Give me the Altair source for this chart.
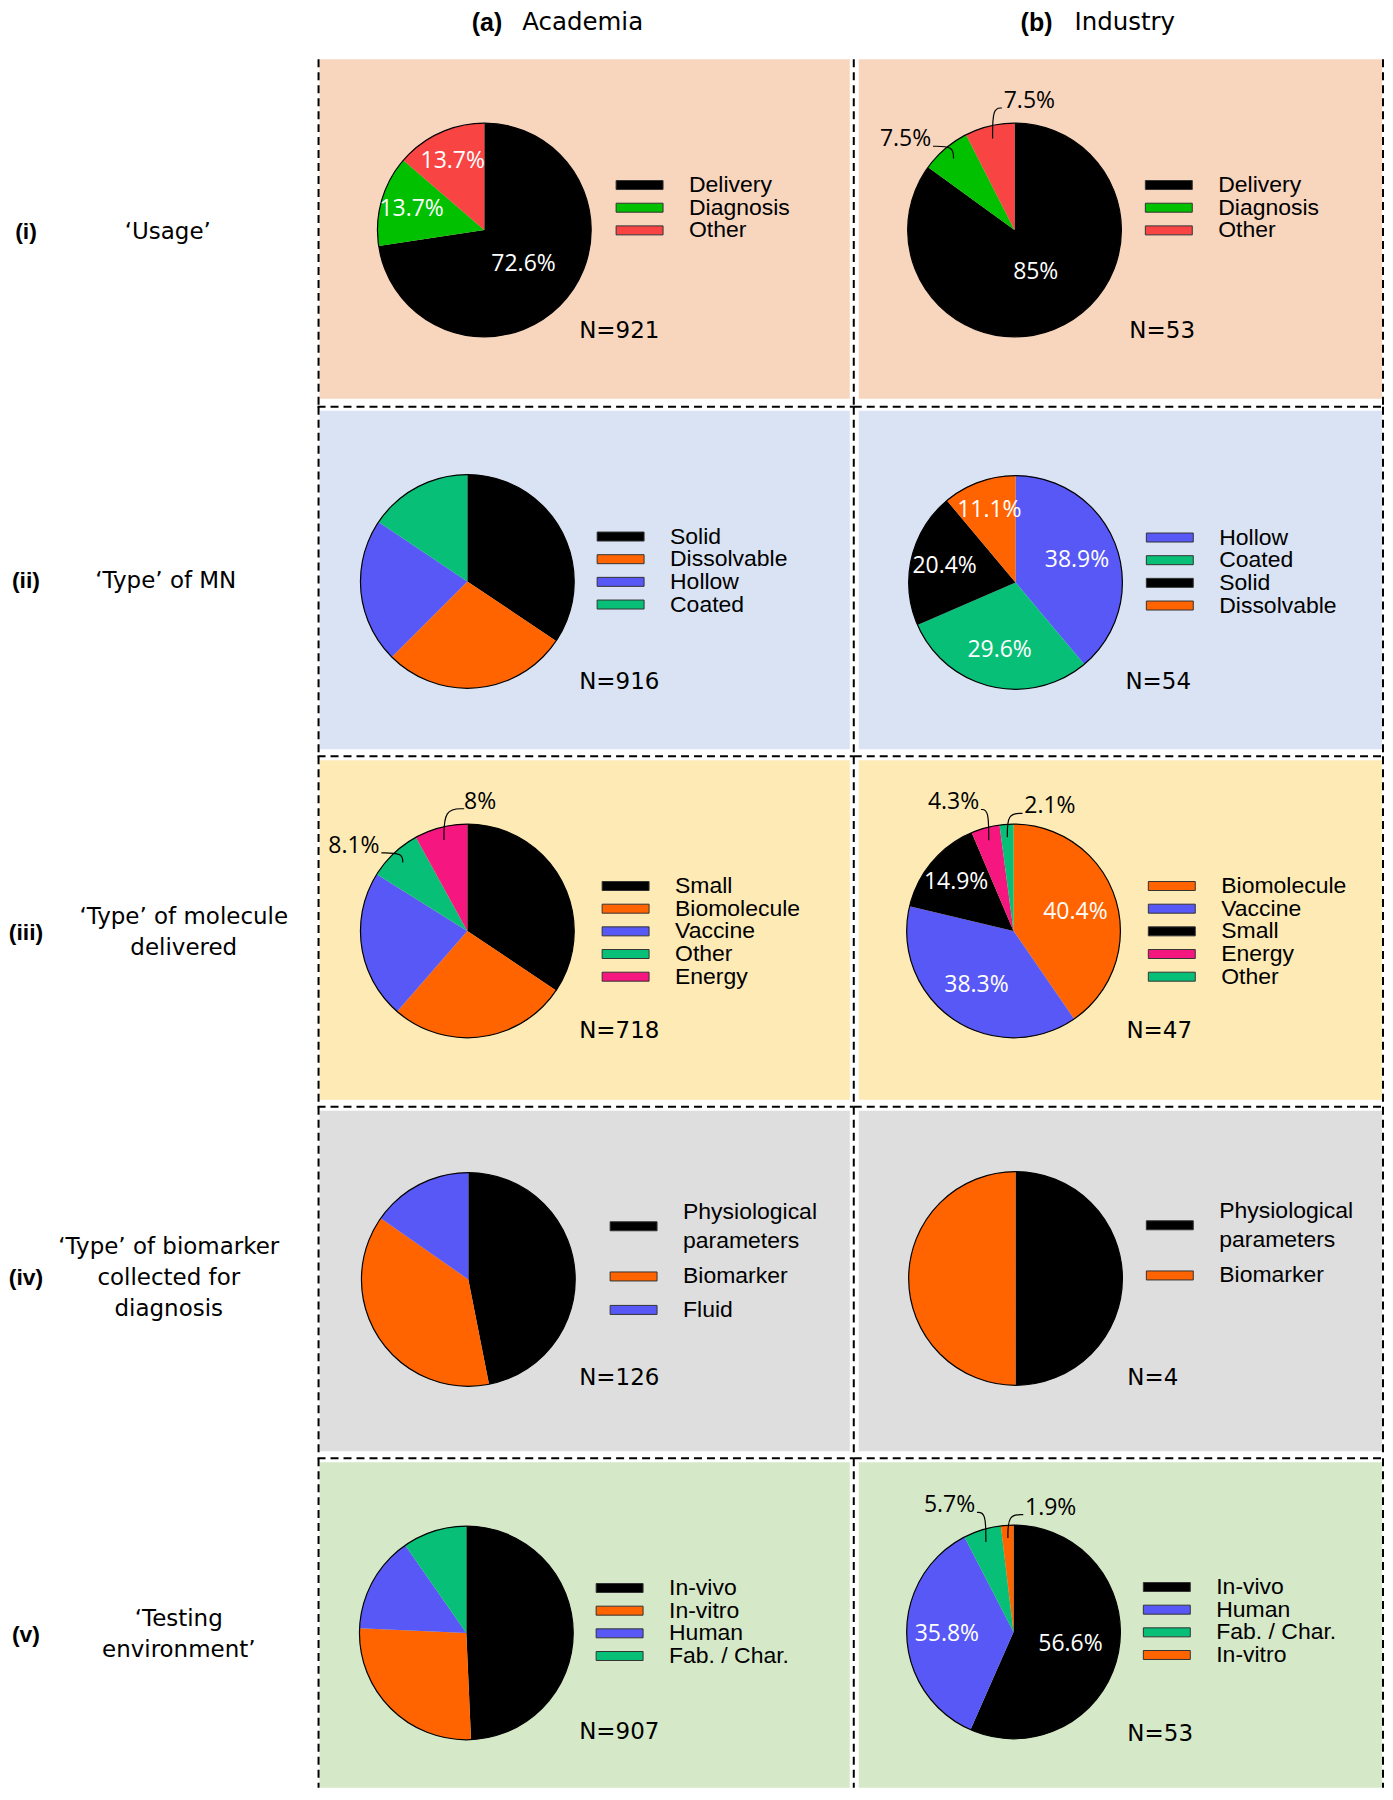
import math
import altair as alt
import pandas as pd

# ---------------- data ----------------
col_tags = ["(a)", "(b)"]
col_names = ["Academia", "Industry"]
row_numerals = ["(i)", "(ii)", "(iii)", "(iv)", "(v)"]
row_titles = ["\u2018Usage\u2019", "\u2018Type\u2019 of MN",
              "\u2018Type\u2019 of molecule\ndelivered",
              "\u2018Type\u2019 of biomarker\ncollected for\ndiagnosis",
              "\u2018Testing\nenvironment\u2019"]

usage_cats = ["Delivery", "Diagnosis", "Other"]
usage_academia = [72.6, 13.7, 13.7]
usage_academia_labels = ["72.6%", "13.7%", "13.7%"]
usage_industry = [85.0, 7.5, 7.5]
usage_industry_labels = ["85%", "7.5%", "7.5%"]

mn_academia_cats = ["Solid", "Dissolvable", "Hollow", "Coated"]
mn_academia = [34.4, 28.1, 21.9, 15.6]
mn_academia_labels = ["", "", "", ""]
mn_industry_cats = ["Hollow", "Coated", "Solid", "Dissolvable"]
mn_industry = [38.9, 29.6, 20.4, 11.1]
mn_industry_labels = ["38.9%", "29.6%", "20.4%", "11.1%"]

mol_academia_cats = ["Small", "Biomolecule", "Vaccine", "Other", "Energy"]
mol_academia = [34.4, 27.0, 22.5, 8.1, 8.0]
mol_academia_labels = ["", "", "", "8.1%", "8%"]
mol_industry_cats = ["Biomolecule", "Vaccine", "Small", "Energy", "Other"]
mol_industry = [40.4, 38.3, 14.9, 4.3, 2.1]
mol_industry_labels = ["40.4%", "38.3%", "14.9%", "4.3%", "2.1%"]

bio_academia_cats = ["Physiological\nparameters", "Biomarker", "Fluid"]
bio_academia = [46.9, 37.8, 15.3]
bio_academia_labels = ["", "", ""]
bio_industry_cats = ["Physiological\nparameters", "Biomarker"]
bio_industry = [50.0, 50.0]
bio_industry_labels = ["", ""]

test_academia_cats = ["In-vivo", "In-vitro", "Human", "Fab. / Char."]
test_academia = [49.3, 26.4, 14.6, 9.7]
test_academia_labels = ["", "", "", ""]
test_industry_cats = ["In-vivo", "Human", "Fab. / Char.", "In-vitro"]
test_industry = [56.6, 35.8, 5.7, 1.9]
test_industry_labels = ["56.6%", "35.8%", "5.7%", "1.9%"]

n_academia = [921, 916, 718, 126, 907]
n_industry = [53, 54, 47, 4, 53]

# ---------------- styles ----------------
BLACK, ORANGE, BLUE, TEAL, PINK = "#000000", "#FF6400", "#5858F6", "#08BF78", "#F5167F"
usage_palette = {"Delivery": BLACK, "Diagnosis": "#00C000", "Other": "#F94444"}
main_palette = {"Solid": BLACK, "Dissolvable": ORANGE, "Hollow": BLUE, "Coated": TEAL,
                "Small": BLACK, "Biomolecule": ORANGE, "Vaccine": BLUE, "Other": TEAL,
                "Energy": PINK, "Physiological\nparameters": BLACK, "Biomarker": ORANGE,
                "Fluid": BLUE, "In-vivo": BLACK, "In-vitro": ORANGE, "Human": BLUE,
                "Fab. / Char.": TEAL}
row_bg = ["#F8D6BE", "#D9E3F3", "#FEEAB5", "#DEDEDE", "#D5E8C7"]

LABEL_W, PANEL_W = 309, [537, 531]
HEADER_H = 49
ROW_H = [346, 349, 350, 351, 331]
R = 107
LEG_LH = 28.7
TITLE_LH = 31

# layout of each panel (local pixel coordinates)
layouts = {
    (0, 0): dict(cx=167, cy=171, sx=299, nx=262, ny=272),
    (0, 1): dict(cx=161, cy=171, sx=292, nx=276, ny=272),
    (1, 0): dict(cx=150, cy=176, sx=280, nx=262, ny=277),
    (1, 1): dict(cx=162, cy=177, sx=293, nx=272, ny=277),
    (2, 0): dict(cx=150, cy=176, sx=285, nx=262, ny=276),
    (2, 1): dict(cx=160, cy=176, sx=295, nx=273, ny=276),
    (3, 0): dict(cx=151, cy=174, sx=293, nx=262, ny=273),
    (3, 1): dict(cx=162, cy=173, sx=293, nx=274, ny=273),
    (4, 0): dict(cx=149, cy=176, sx=279, nx=262, ny=275),
    (4, 1): dict(cx=160, cy=175, sx=290, nx=274, ny=277),
}
legend_pitch = [22.7, 22.7, 22.7, 33.5, 22.7]
legend_off = [-45, -45, -45, -70, -45]
row_label_x = [159, 157, 175, 160, 170]
row_label_y = [173, 176, 178, 173, 178]

DASH = dict(strokeDash=[8, 5], strokeWidth=2, color="black")


def pie_panel(row, col, cats, vals, labels, n_value, palette):
    w, h = PANEL_W[col], ROW_H[row]
    L = layouts[(row, col)]
    cx, cy, sx = L["cx"], L["cy"], L["sx"]
    df = pd.DataFrame({"cat": cats, "val": vals, "lab": labels,
                       "idx": list(range(len(cats))),
                       "nl": [c.count("\n") + 1 for c in cats]})
    one = pd.DataFrame({"n": [f"N={n_value}"]})
    color = alt.Color("cat:N", scale=alt.Scale(domain=list(cats),
                      range=[palette[c] for c in cats]), legend=None)

    x0, x1 = (2, w - 4) if col == 0 else (5, w - 2)
    y0 = 0 if row == 0 else 5
    y1 = h if row == 4 else (h - 6 if row == 0 else h - 5)
    bg = alt.Chart(one).mark_rect(color=row_bg[row]).encode(
        x=alt.value(x0), x2=alt.value(x1), y=alt.value(y0), y2=alt.value(y1))

    geo = (alt.Chart(df)
           .transform_joinaggregate(total="sum(val)")
           .transform_window(cum="sum(val)", sort=[alt.SortField("idx")], frame=[None, 0])
           .transform_calculate(
               a1="2*PI*datum.cum/datum.total",
               a0="2*PI*(datum.cum-datum.val)/datum.total",
               am="PI*(2*datum.cum-datum.val)/datum.total",
               frac="datum.val/datum.total"))

    arcs = geo.mark_arc(radius=R).encode(
        theta=alt.Theta("a0:Q", scale=None, stack=False), theta2=alt.Theta2("a1:Q"),
        color=color, x=alt.value(cx), y=alt.value(cy))
    outline = alt.Chart(one).mark_arc(radius=R, theta=0, theta2=2 * math.pi, fillOpacity=0,
                                      stroke="black", strokeWidth=1.2).encode(
        x=alt.value(cx), y=alt.value(cy))

    inside = (geo.transform_filter("datum.lab != '' && datum.val >= 9")
              .transform_calculate(
                  r=f"{R}*(0.76-0.38*datum.frac)",
                  px=f"{cx} + datum.r*sin(datum.am)",
                  py=f"{cy} - datum.r*cos(datum.am)")
              .mark_text(font="Open Sans", fontSize=23, color="white")
              .encode(x=alt.X("px:Q", scale=None), y=alt.Y("py:Q", scale=None), text="lab:N"))

    outside_base = (geo.transform_filter("datum.lab != '' && datum.val < 9")
                    .transform_calculate(
                        last="datum.cum >= datum.total - 0.01 ? 1 : 0",
                        la="datum.am + (datum.last ? 0.35 : -0.17)",
                        ld=f"datum.last ? {R + 23} : {R + 35}",
                        lx=f"{cx} + datum.ld*sin(datum.la)",
                        ly=f"{cy} - datum.ld*cos(datum.la)"))
    outside = outside_base.mark_text(font="Open Sans", fontSize=23, color="black").encode(
        x=alt.X("lx:Q", scale=None), y=alt.Y("ly:Q", scale=None), text="lab:N")
    leaders = (outside_base
               .transform_calculate(lw="length(datum.lab)*11.5+5", steps="[0,1,2]")
               .transform_flatten(["steps"])
               .transform_calculate(
                   ex="datum.lx + (datum.last ? -1 : 1)*(datum.lw/2+2)",
                   ey="datum.ly + 7",
                   ix=f"{cx} + {0.88 * R}*sin(datum.am)",
                   iy=f"{cy} - {0.88 * R}*cos(datum.am)",
                   px="datum.steps < 2 ? datum.ix : datum.ex",
                   py="datum.steps == 0 ? datum.iy : datum.ey")
               .mark_line(interpolate="basis", color="black", strokeWidth=1.2)
               .encode(x=alt.X("px:Q", scale=None), y=alt.Y("py:Q", scale=None),
                       detail="cat:N", order="steps:Q"))

    leg = (alt.Chart(df)
           .transform_window(cu="sum(nl)", sort=[alt.SortField("idx")], frame=[None, 0])
           .transform_calculate(
               ly=f"{cy + legend_off[row]} + (datum.cu - datum.nl/2 - 0.5)*{legend_pitch[row]}",
               ly0="datum.ly - 4.5", ly1="datum.ly + 4.5",
               lty=f"datum.ly - (datum.nl - 1)*{LEG_LH}/2"))
    swatch = leg.mark_rect(stroke="#333333", strokeWidth=1).encode(
        x=alt.value(sx), x2=alt.value(sx + 47),
        y=alt.Y("ly0:Q", scale=None), y2=alt.Y2("ly1:Q"), color=color)
    ltext = leg.mark_text(align="left", baseline="middle", font="Liberation Sans",
                          fontSize=23, lineBreak="\n", lineHeight=LEG_LH, color="black").encode(
        x=alt.value(sx + 73), y=alt.Y("lty:Q", scale=None), text="cat:N")

    ntext = alt.Chart(one).mark_text(align="left", baseline="middle", font="DejaVu Sans",
                                     fontSize=23, color="black").encode(
        x=alt.value(L["nx"]), y=alt.value(L["ny"]), text="n:N")

    borders = []
    bx = 1 if col == 0 else 0
    top = 1 if row > 0 else 0
    borders.append(alt.Chart(one).mark_rule(**DASH).encode(
        x=alt.value(bx), y=alt.value(top), y2=alt.value(h)))
    if col == 1:
        borders.append(alt.Chart(one).mark_rule(**DASH).encode(
            x=alt.value(w - 1), y=alt.value(top), y2=alt.value(h)))
    if row > 0:
        borders.append(alt.Chart(one).mark_rule(**DASH).encode(
            x=alt.value(0), x2=alt.value(w), y=alt.value(1)))

    return alt.layer(bg, arcs, outline, inside, leaders, outside, swatch, ltext, ntext,
                     *borders).properties(width=w, height=h)


def row_label(row):
    h = ROW_H[row]
    title_text = row_titles[row]
    nlines = title_text.count("\n") + 1
    d = pd.DataFrame({"num": [row_numerals[row]], "title": [title_text]})
    num = alt.Chart(d).mark_text(font="Liberation Sans", fontWeight="bold", fontSize=23,
                                 baseline="middle", color="black").encode(
        x=alt.value(17), y=alt.value(row_label_y[row]), text="num:N")
    title = alt.Chart(d).mark_text(font="DejaVu Sans", fontSize=23, baseline="middle",
                                   align="center", lineBreak="\n", lineHeight=TITLE_LH,
                                   color="black").encode(
        x=alt.value(row_label_x[row]),
        y=alt.value(row_label_y[row] - (nlines - 1) * TITLE_LH / 2), text="title:N")
    return alt.layer(num, title).properties(width=LABEL_W, height=h)


hd = pd.DataFrame({"tag": col_tags, "name": col_names})
HY = 14
tag_a = alt.Chart(hd.iloc[[0]]).mark_text(font="Liberation Sans", fontWeight="bold", fontSize=25,
                                          align="right", baseline="middle").encode(
    x=alt.value(494), y=alt.value(HY), text="tag:N")
name_a = alt.Chart(hd.iloc[[0]]).mark_text(font="DejaVu Sans", fontSize=24.5, align="left",
                                           baseline="middle").encode(
    x=alt.value(514), y=alt.value(HY), text="name:N")
tag_b = alt.Chart(hd.iloc[[1]]).mark_text(font="Liberation Sans", fontWeight="bold", fontSize=25,
                                          align="right", baseline="middle").encode(
    x=alt.value(1045), y=alt.value(HY), text="tag:N")
name_b = alt.Chart(hd.iloc[[1]]).mark_text(font="DejaVu Sans", fontSize=24.5, align="left",
                                           baseline="middle").encode(
    x=alt.value(1067), y=alt.value(HY), text="name:N")
header = alt.layer(tag_a, name_a, tag_b, name_b).properties(
    width=LABEL_W + sum(PANEL_W), height=HEADER_H)

panels = [
    (usage_cats, usage_academia, usage_academia_labels, usage_cats, usage_industry,
     usage_industry_labels, usage_palette),
    (mn_academia_cats, mn_academia, mn_academia_labels, mn_industry_cats, mn_industry,
     mn_industry_labels, main_palette),
    (mol_academia_cats, mol_academia, mol_academia_labels, mol_industry_cats, mol_industry,
     mol_industry_labels, main_palette),
    (bio_academia_cats, bio_academia, bio_academia_labels, bio_industry_cats, bio_industry,
     bio_industry_labels, main_palette),
    (test_academia_cats, test_academia, test_academia_labels, test_industry_cats,
     test_industry, test_industry_labels, main_palette),
]

rows = []
for r, (ca, va, la, cb, vb, lb, pal) in enumerate(panels):
    pa = pie_panel(r, 0, ca, va, la, n_academia[r], pal)
    pb = pie_panel(r, 1, cb, vb, lb, n_industry[r], pal)
    rows.append(alt.hconcat(row_label(r), pa, pb, spacing=0, bounds="flush")
                .resolve_scale(color="independent"))

chart = (alt.vconcat(header, *rows, spacing=0)
         .resolve_scale(color="independent")
         .properties(padding=0)
         .configure_view(stroke=None))

chart.save("out.html", embed_options={"renderer": "svg", "actions": False})
